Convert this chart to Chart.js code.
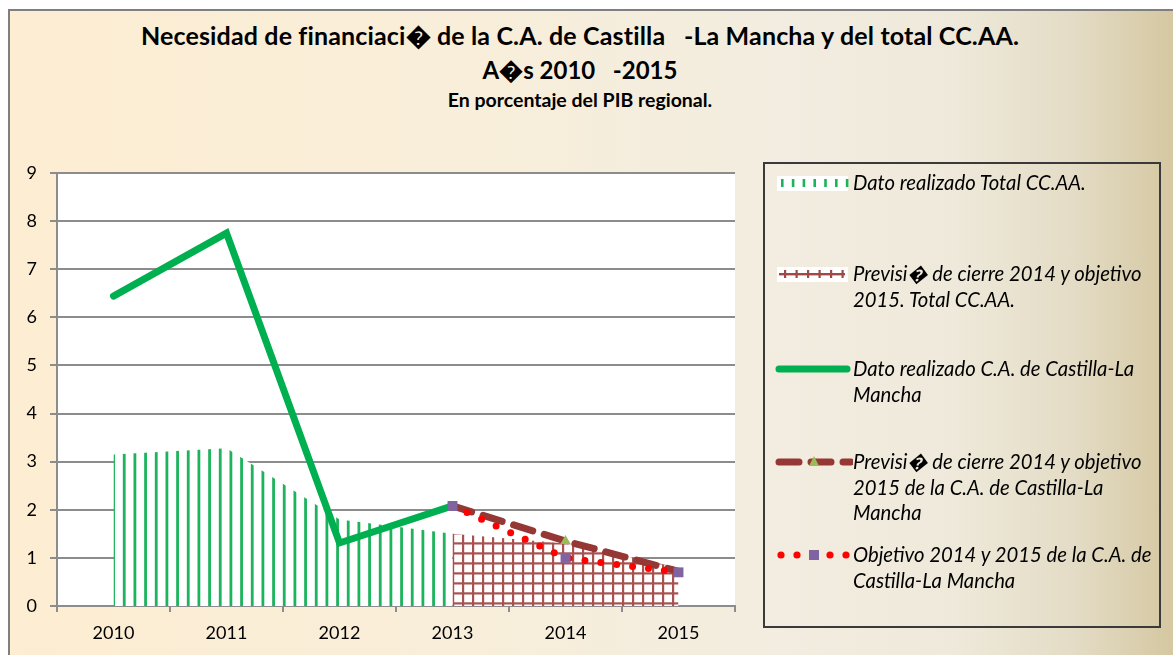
<!DOCTYPE html>
<html>
<head>
<meta charset="utf-8">
<script src="https://cdn.jsdelivr.net/npm/chart.js@4.4.0/dist/chart.umd.min.js"></script>
<style>
html,body{margin:0;padding:0;background:#fff;}
#wrap{position:absolute;left:0;top:0;width:1173px;height:655px;overflow:hidden;}
#frame{position:absolute;left:8px;top:9px;width:1180px;height:660px;border-left:2px solid #7f7f7f;border-top:2px solid #7f7f7f;
  background:linear-gradient(to right,#FDEDD2 0%,#F8EEDA 40%,#F2EDE0 65%,#EEE9DA 80%,#E4DCC6 90%,#D2C49B 100%);}
#c{position:absolute;left:0;top:0;}
.t{position:absolute;left:0;width:1160px;text-align:center;white-space:pre;font-family:Lato,"Liberation Sans",sans-serif;font-weight:bold;color:#000;}
#legend{position:absolute;left:763px;top:162px;width:394px;height:462px;border:2px solid #3a3a3a;}
.li{position:absolute;left:88px;font-family:Lato,"Liberation Sans",sans-serif;font-style:italic;font-size:20.3px;line-height:25.5px;color:#000;white-space:pre;}
.sw{position:absolute;left:8px;}
</style>
</head>
<body>
<div id="wrap">
  <div id="frame"></div>
  <div class="t" id="t1" style="top:19px;font-size:25px;letter-spacing:0.15px;line-height:32px;"></div>
  <div class="t" id="t2" style="top:54px;font-size:24px;line-height:32px;"></div>
  <div class="t" id="t3" style="top:88px;font-size:19.5px;line-height:24px;"></div>
  <canvas id="c" width="1173" height="655"></canvas>
  <div id="legend"></div>
</div>
<script>
// ---- data ----
const years = ['2010', '2011', '2012', '2013', '2014', '2015'];
const totalReal = [3.15, 3.28, 1.8, 1.5, null, null];
const totalPrev = [null, null, null, 1.5, 1.3, 0.8];
const clmReal = [6.44, 7.75, 1.31, 2.08, null, null];
const clmPrev = [null, null, null, 2.08, 1.35, 0.72];
const clmObj = [null, null, null, 2.08, 1.0, 0.7];
const yTicks = [0, 1, 2, 3, 4, 5, 6, 7, 8, 9];
const titleLines = ['Necesidad de financiaci\uFFFD de la C.A. de Castilla   -La Mancha y del total CC.AA.', 'A\uFFFDs 2010   -2015'];
const subtitle = 'En porcentaje del PIB regional.';
const seriesLabels = [
  'Dato realizado Total CC.AA.',
  'Previsi\uFFFD de cierre 2014 y objetivo\n2015. Total CC.AA.',
  'Dato realizado C.A. de Castilla-La\nMancha',
  'Previsi\uFFFD de cierre 2014 y objetivo\n2015 de la C.A. de Castilla-La\nMancha',
  'Objetivo 2014 y 2015 de la C.A. de\nCastilla-La Mancha'
];

document.getElementById('t1').textContent = titleLines[0];
document.getElementById('t2').textContent = titleLines[1];
document.getElementById('t3').textContent = subtitle;

const cv = document.getElementById('c');
const ctx = cv.getContext('2d');

function makeStripe(c) {
  const p = document.createElement('canvas');
  p.width = 32; p.height = 8;
  const x = p.getContext('2d');
  x.fillStyle = '#fff'; x.fillRect(0, 0, 32, 8);
  x.fillStyle = '#1DB35C';
  for (let i = 0; i < 3; i++) x.fillRect(i * 32 / 3 + 5.5, 0, 2.8, 8);
  return c.createPattern(p, 'repeat');
}
function makeHatch(c) {
  const p = document.createElement('canvas');
  p.width = 10; p.height = 10;
  const x = p.getContext('2d');
  x.fillStyle = '#fff'; x.fillRect(0, 0, 10, 10);
  x.fillStyle = '#A85250';
  x.fillRect(2, 0, 2.2, 10);
  x.fillRect(0, 2.3, 10, 2.2);
  return c.createPattern(p, 'repeat');
}
const stripe = makeStripe(ctx);
const hatch = makeHatch(ctx);

const plotBg = {
  id: 'plotBg',
  beforeDraw(chart) {
    const a = chart.chartArea, g = chart.ctx;
    g.save(); g.fillStyle = '#fff';
    g.fillRect(a.left, a.top, a.right - a.left, a.bottom - a.top);
    g.restore();
  }
};

const tickFont = {family: 'Lato, "Liberation Sans", sans-serif', size: 18};

const chart = new Chart(ctx, {
  type: 'line',
  data: {
    labels: years,
    datasets: [
      {label: seriesLabels[0], data: totalReal, fill: 'origin', backgroundColor: stripe, borderColor: 'rgba(0,0,0,0)', borderWidth: 0, pointRadius: 0, order: 5},
      {label: seriesLabels[1], data: totalPrev, fill: 'origin', backgroundColor: hatch, borderColor: 'rgba(0,0,0,0)', borderWidth: 0, pointRadius: 0, order: 4},
      {label: seriesLabels[2], data: clmReal, fill: false, borderColor: '#00B050', borderWidth: 7, borderCapStyle: 'round', borderJoinStyle: 'miter', pointRadius: 0, order: 3},
      {label: seriesLabels[3], data: clmPrev, fill: false, borderColor: '#953735', borderWidth: 7, borderDash: [20, 12], borderCapStyle: 'round',
        pointStyle: 'triangle', pointRadius: [0, 0, 0, 0, 6, 0], pointBackgroundColor: '#9BBB59', pointBorderWidth: 0, order: 2},
      {label: seriesLabels[4], data: clmObj, fill: false, borderColor: '#FF0000', borderWidth: 7, borderDash: [0, 16], borderCapStyle: 'round',
        pointStyle: 'rect', pointRadius: [0, 0, 0, 7, 7, 7], pointBackgroundColor: '#8064A2', pointBorderWidth: 0, order: 1}
    ]
  },
  options: {
    responsive: false,
    animation: false,
    events: [],
    layout: {padding: {left: 0, top: 173, right: 438, bottom: 0}},
    plugins: {legend: {display: false}, title: {display: false}, tooltip: {enabled: false}},
    scales: {
      x: {
        offset: true,
        grid: {offset: true, drawOnChartArea: false, drawTicks: true, tickLength: 6, color: '#8C8C8C', lineWidth: 2},
        border: {color: '#8C8C8C', width: 2},
        ticks: {color: '#000', font: tickFont, padding: 10, maxRotation: 0},
        afterFit(s) { s.height = 49; }
      },
      y: {
        min: 0, max: 9,
        afterBuildTicks(s) { s.ticks = yTicks.map(v => ({value: v})); },
        grid: {color: '#8C8C8C', lineWidth: 2, tickLength: 7},
        border: {color: '#8C8C8C', width: 2},
        ticks: {color: '#000', font: tickFont, padding: 13},
        afterFit(s) { s.width = 57; }
      }
    }
  },
  plugins: [plotBg]
});

// ---- legend (HTML, built from datasets) ----
const rowTops = [168, 259, 354, 447, 540];
const legend = document.getElementById('legend');
chart.data.datasets.forEach((ds, i) => {
  const top = rowTops[i] - 162;
  const sw = document.createElement('canvas');
  sw.width = 80; sw.height = 26; sw.className = 'sw';
  sw.style.top = (top) + 'px';
  legend.appendChild(sw);
  const g = sw.getContext('2d');
  const cy = 13;
  if (i === 0) {
    g.fillStyle = '#fff'; g.fillRect(4, cy - 7, 71, 15);
    g.fillStyle = '#1DB35C';
    for (let k = 0; k < 7; k++) g.fillRect(8 + k * 10.8, cy - 4, 2.6, 8);
  } else if (i === 1) {
    g.fillStyle = '#fff'; g.fillRect(4, cy - 7, 71, 15);
    g.fillStyle = '#A04846';
    g.fillRect(6, cy - 1, 66, 2.4);
    for (let k = 0; k < 6; k++) g.fillRect(11 + k * 11.5, cy - 4, 2.2, 8);
  } else if (i === 2) {
    g.strokeStyle = ds.borderColor; g.lineWidth = 7; g.lineCap = 'round';
    g.beginPath(); g.moveTo(6, cy); g.lineTo(74, cy); g.stroke();
  } else if (i === 3) {
    g.strokeStyle = ds.borderColor; g.lineWidth = 7; g.lineCap = 'round';
    g.setLineDash([20, 12]);
    g.beginPath(); g.moveTo(6, cy); g.lineTo(78, cy); g.stroke();
    g.setLineDash([]);
    g.fillStyle = '#9BBB59';
    g.beginPath(); g.moveTo(41, cy - 6); g.lineTo(46, cy + 4); g.lineTo(36, cy + 4); g.closePath(); g.fill();
  } else {
    g.fillStyle = ds.borderColor;
    [8, 24, 57, 73].forEach(x => { g.beginPath(); g.arc(x, cy, 3.6, 0, Math.PI * 2); g.fill(); });
    g.fillStyle = '#8064A2';
    g.fillRect(36, cy - 5, 10, 10);
  }
  const t = document.createElement('div');
  t.className = 'li';
  t.style.top = (top) + 'px';
  t.textContent = ds.label;
  legend.appendChild(t);
});
</script>
</body>
</html>
